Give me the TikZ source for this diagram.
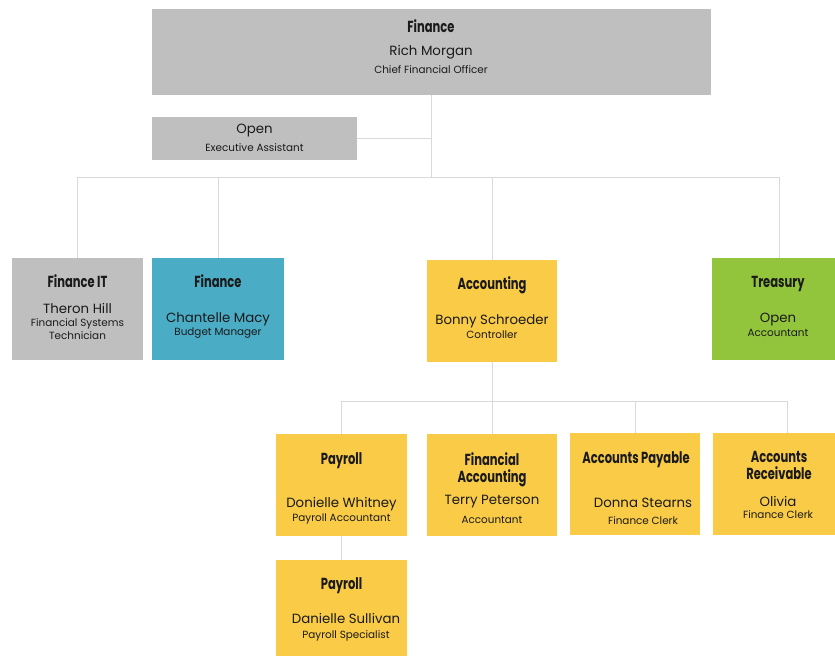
\documentclass[tikz,border=0pt]{standalone}
\usepackage{fontspec}
\setmainfont{Poppins}
\newfontfamily\headfont[FakeStretch=0.72]{Poppins}
\definecolor{boxgray}{HTML}{BFBFBF}
\definecolor{boxblue}{HTML}{4BACC6}
\definecolor{boxyellow}{HTML}{F9CB47}
\definecolor{boxgreen}{HTML}{93C53C}
\definecolor{linegray}{HTML}{D9D9D9}
\definecolor{txt}{HTML}{1A1A1A}
\begin{document}
\begin{tikzpicture}[x=0.75pt,y=-0.75pt,
  box/.style={draw=none,inner sep=0pt,outer sep=0pt},
  conn/.style={draw=linegray,line width=0.7pt},
  ttl/.style={inner sep=0pt,text=txt,font=\headfont\bfseries\fontsize{12}{13}\selectfont,align=center},
  nm/.style={inner sep=0pt,text=txt,font=\fontsize{10}{11}\selectfont,align=center},
  rl/.style={inner sep=0pt,text=txt,font=\fontsize{7.8}{9.8}\selectfont,align=center}]
\useasboundingbox (0,0) rectangle (835,656);
% boxes
\node[box,fill=boxgray,minimum width=559*0.75pt,minimum height=86*0.75pt] (cfo) at (431.5,52) {};
\node[box,fill=boxgray,minimum width=205*0.75pt,minimum height=43*0.75pt] (ea) at (254.5,138.5) {};
\node[box,fill=boxgray,minimum width=131*0.75pt,minimum height=102*0.75pt] (fit) at (77.5,309) {};
\node[box,fill=boxblue,minimum width=132*0.75pt,minimum height=102*0.75pt] (fin) at (218,309) {};
\node[box,fill=boxyellow,minimum width=130*0.75pt,minimum height=102*0.75pt] (acc) at (492,311) {};
\node[box,fill=boxgreen,minimum width=134*0.75pt,minimum height=102*0.75pt] (tre) at (779,309) {};
\node[box,fill=boxyellow,minimum width=131*0.75pt,minimum height=102*0.75pt] (pay) at (341.5,485) {};
\node[box,fill=boxyellow,minimum width=130*0.75pt,minimum height=102*0.75pt] (fac) at (492,485) {};
\node[box,fill=boxyellow,minimum width=130*0.75pt,minimum height=102*0.75pt] (ap) at (635,484) {};
\node[box,fill=boxyellow,minimum width=131*0.75pt,minimum height=102*0.75pt] (ar) at (778.5,484) {};
\node[box,fill=boxyellow,minimum width=131*0.75pt,minimum height=102*0.75pt] (pay2) at (341.5,611) {};
% junctions
\coordinate (j1) at (431.5,177);
\coordinate (j2) at (492,401);
\coordinate (arin) at (787,433);
% connectors
\draw[conn] (cfo.south) -- (j1);
\draw[conn] (ea.east) -- (ea.east -| cfo.south);
\draw[conn] (j1) -| (fit.north);
\draw[conn] (j1) -| (fin.north);
\draw[conn] (j1) -| (acc.north);
\draw[conn] (j1) -| (tre.north);
\draw[conn] (acc.south) -- (j2);
\draw[conn] (j2) -| (pay.north);
\draw[conn] (j2) -| (fac.north);
\draw[conn] (j2) -| (ap.north);
\draw[conn] (j2) -| (arin);
\draw[conn] (pay.south) -- (pay2.north);
% texts
\node[ttl] (cfo-t) at (431,26) {Finance};
\node[nm] (cfo-n) at (431,52) {Rich Morgan};
\node[rl] (cfo-r) at (431,69.5) {Chief Financial Officer};
\node[nm] (ea-n) at (254.5,130.5) {Open};
\node[rl] (ea-r) at (254.5,148) {Executive Assistant};
\node[ttl] (fit-t) at (77.5,281) {Finance IT};
\node[nm] (fit-n) at (77.5,308) {Theron Hill};
\node[rl] (fit-r) at (77.5,329) {Financial Systems\\Technician};
\node[ttl] (fin-t) at (218,281) {Finance};
\node[nm] (fin-n) at (218,319.5) {Chantelle Macy};
\node[rl] (fin-r) at (218,333) {Budget Manager};
\node[ttl] (acc-t) at (492,285.5) {Accounting};
\node[nm] (acc-n) at (492,321.5) {Bonny Schroeder};
\node[rl] (acc-r) at (492,335) {Controller};
\node[ttl] (tre-t) at (778,284) {Treasury};
\node[nm] (tre-n) at (778,319.5) {Open};
\node[rl] (tre-r) at (778,333) {Accountant};
\node[ttl] (pay-t) at (341.5,461) {Payroll};
\node[nm] (pay-n) at (341.5,504.5) {Donielle Whitney};
\node[rl] (pay-r) at (341.5,519) {Payroll Accountant};
\node[ttl] (fac-t) at (492,469.5) {Financial\\Accounting};
\node[nm] (fac-n) at (492,501.5) {Terry Peterson};
\node[rl] (fac-r) at (492,520) {Accountant};
\node[ttl] (ap-t) at (636,460) {Accounts Payable};
\node[nm] (ap-n) at (643,502.5) {Donna Stearns};
\node[rl] (ap-r) at (643,521) {Finance Clerk};
\node[ttl] (ar-t) at (779,465.5) {Accounts\\Receivable};
\node[nm] (ar-n) at (778,501.5) {Olivia};
\node[rl] (ar-r) at (778,515) {Finance Clerk};
\node[ttl] (pay2-t) at (341.5,586) {Payroll};
\node[nm] (pay2-n) at (346,618.5) {Danielle Sullivan};
\node[rl] (pay2-r) at (346,636) {Payroll Specialist};
\end{tikzpicture}
\end{document}
